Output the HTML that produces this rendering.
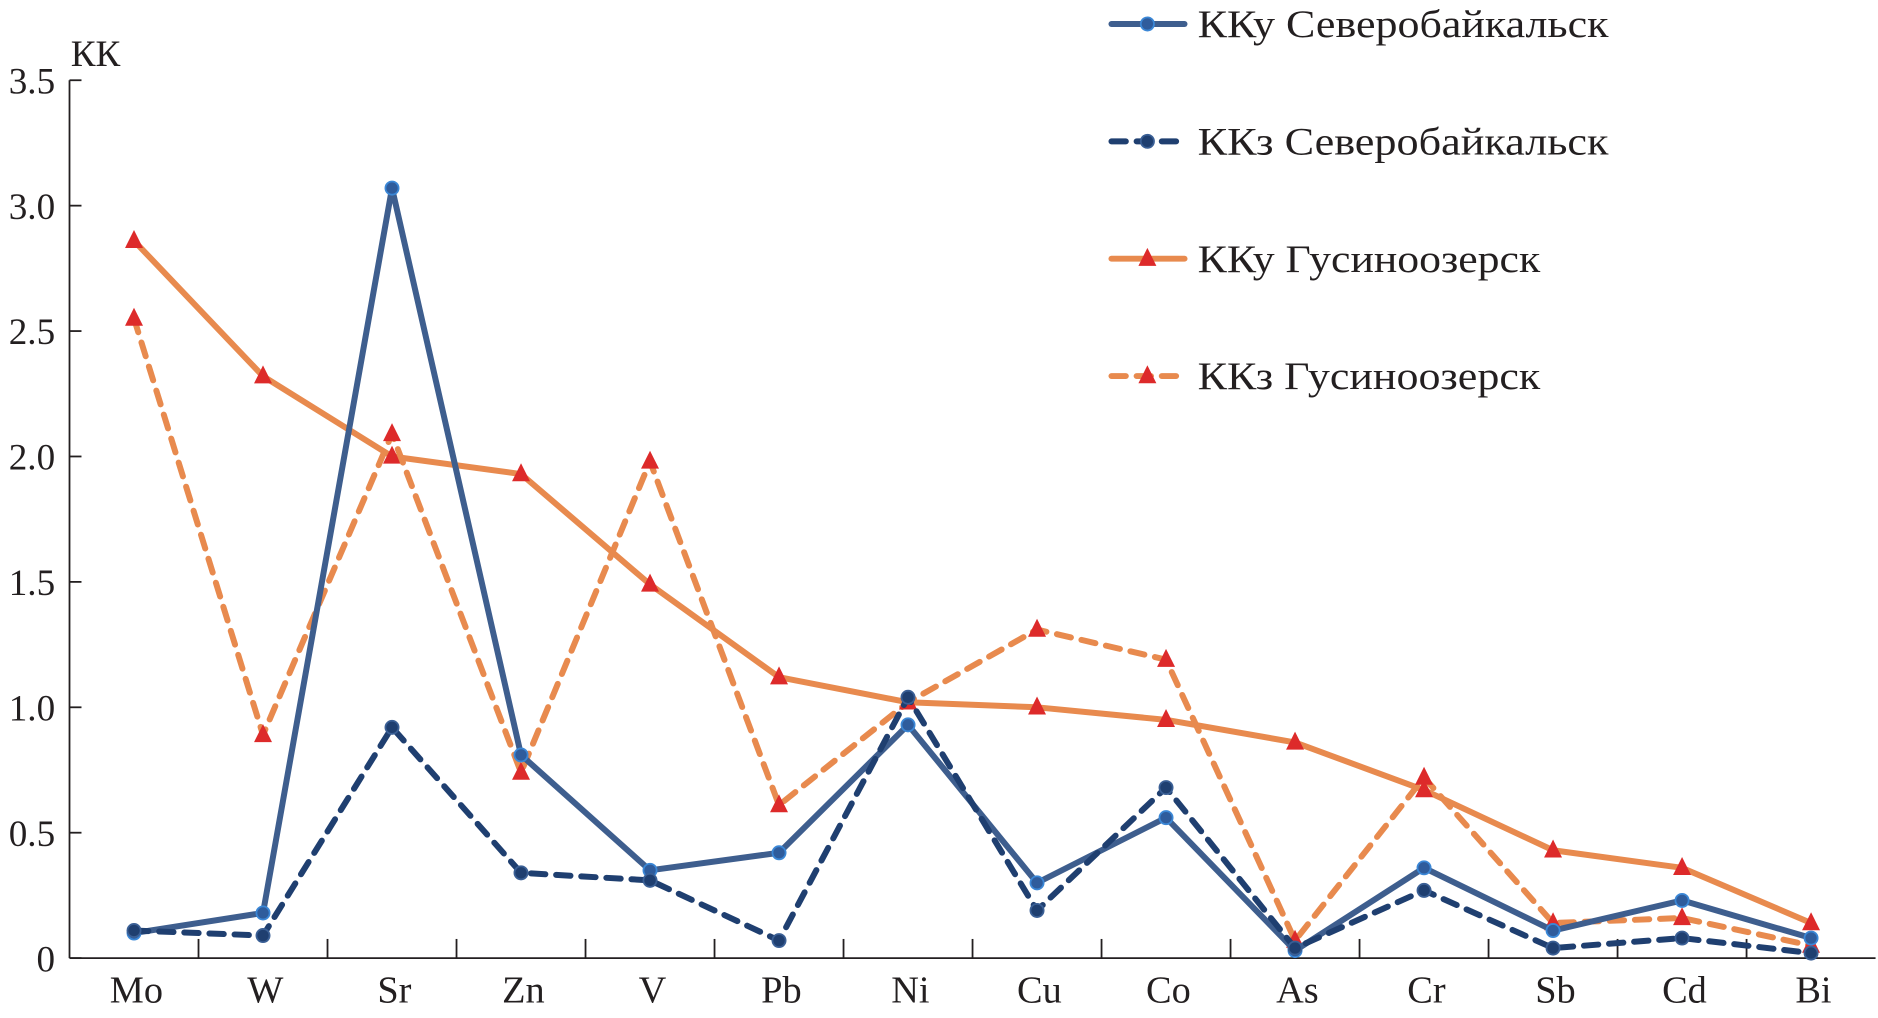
<!DOCTYPE html>
<html><head><meta charset="utf-8"><style>
html,body{margin:0;padding:0;background:#fff;}
svg{display:block;}
text{font-family:"Times New Roman","Liberation Serif","DejaVu Serif",serif;fill:#231f20;}
</style></head><body>
<svg id="chart" width="1878" height="1018" viewBox="0 0 1568 850" xmlns="http://www.w3.org/2000/svg" font-family="Times New Roman, Liberation Serif, DejaVu Serif, serif">
<g id="axes"></g>
<g id="series"></g>
<g id="legend"></g>
</svg>
<script>
const categories = ["Mo","W","Sr","Zn","V","Pb","Ni","Cu","Co","As","Cr","Sb","Cd","Bi"];
const kkySever = [0.10,0.18,3.07,0.81,0.35,0.42,0.93,0.30,0.56,0.03,0.36,0.11,0.23,0.08];
const kkzSever = [0.11,0.09,0.92,0.34,0.31,0.07,1.04,0.19,0.68,0.04,0.27,0.04,0.08,0.02];
const kkyGus = [2.86,2.32,2.00,1.93,1.49,1.12,1.02,1.00,0.95,0.86,0.67,0.43,0.36,0.14];
const kkzGus = [2.55,0.89,2.09,0.74,1.98,0.61,1.02,1.31,1.19,0.07,0.72,0.14,0.16,0.05];
const yTicks = [0,0.5,1.0,1.5,2.0,2.5,3.0,3.5];
const yTickLabels = ["0","0.5","1.0","1.5","2.0","2.5","3.0","3.5"];
const legendLabels = ["ККу Северобайкальск","ККз Северобайкальск","ККу Гусиноозерск","ККз Гусиноозерск"];

const NS="http://www.w3.org/2000/svg";
const FF="Times New Roman, Liberation Serif, DejaVu Serif, serif";
const X0=58, X1=1566, Y0=800, YTOP=67, YMAX=3.5;
const step=(X1-X0)/categories.length;
function xs(i){return X0+step*(i+0.5);}
function ys(v){return Y0-(v/YMAX)*(Y0-YTOP);}
function mk(tag,attrs,parent){const e=document.createElementNS(NS,tag);for(const k in attrs)e.setAttribute(k,attrs[k]);parent.appendChild(e);return e;}
const axes=document.getElementById('axes'), series=document.getElementById('series'), legend=document.getElementById('legend');

let e=mk('line',{x1:X0,y1:YTOP,x2:X0,y2:Y0,stroke:'#231f20','stroke-width':1.5},axes);


e=mk('line',{x1:X0,y1:Y0,x2:X1,y2:Y0,stroke:'#231f20','stroke-width':1.5},axes);


yTicks.forEach((v,i)=>{
  const t=mk('line',{x1:X0,y1:ys(v),x2:X0+10,y2:ys(v),stroke:'#231f20','stroke-width':1.5},axes);
  
  
  const l=mk('text',{x:X0-12,y:ys(v)+11,'text-anchor':'end','font-size':31,'font-family':FF},axes);
  l.textContent=yTickLabels[i];
  
  
});
for(let i=1;i<categories.length;i++){
  const t=mk('line',{x1:X0+step*i,y1:Y0,x2:X0+step*i,y2:Y0-16,stroke:'#231f20','stroke-width':1.5},axes);
  
  
}
categories.forEach((c,i)=>{
  const l=mk('text',{x:xs(i)+2,y:837,'text-anchor':'middle','font-size':32,'font-family':FF},axes);
  l.textContent=c;
  
  
});
e=mk('text',{x:59,y:55,'font-size':31,'font-family':FF},axes);
e.textContent="КК";



const defs=[
 {data:kkySever,color:'#3e5e8e',dash:null,marker:'circle',mfill:'#2f5c9c',mstroke:'#3b87d6',name:'series-kky-severobaikalsk'},
 {data:kkzSever,color:'#1f3f70',dash:'12 9',marker:'circle',mfill:'#1f3f70',mstroke:'#3a5f95',name:'series-kkz-severobaikalsk'},
 {data:kkyGus,color:'#e88a4e',dash:null,marker:'tri',mfill:'#dd2a2a',mstroke:'#dd2a2a',name:'series-kky-gusinoozersk'},
 {data:kkzGus,color:'#e88a4e',dash:'12 9',marker:'tri',mfill:'#dd2a2a',mstroke:'#dd2a2a',name:'series-kkz-gusinoozersk'}
];
function marker(d,x,y,g){
  let m;
  if(d.marker==='circle') m=mk('circle',{cx:x,cy:y,r:5.5,fill:d.mfill,stroke:d.mstroke,'stroke-width':1.5},g);
  else m=mk('polygon',{points:`${x},${y-9} ${x-7.5},${y+6} ${x+7.5},${y+6}`,fill:d.mfill},g);
  return m;
}
const drawOrder=[2,3,0,1];
drawOrder.forEach(k=>{
  const d=defs[k];
  const g=mk('g',{},series);
  
  
  const pts=d.data.map((v,i)=>xs(i)+','+ys(v)).join(' ');
  const pl=mk('polyline',{points:pts,fill:'none',stroke:d.color,'stroke-width':5,'stroke-linejoin':'round','stroke-linecap':'round'},g);
  if(d.dash) pl.setAttribute('stroke-dasharray',d.dash);
  
  
  d.data.forEach((v,i)=>{
    const m=marker(d,xs(i),ys(v),g);
    
    
  });
});
const legendY=[20,118,216,314];
const legendW=[343,343,286,286];
defs.forEach((d,k)=>{
  const g=mk('g',{},legend);
  
  
  const y=legendY[k];
  const ln=mk('line',{x1:928,y1:y,x2:989,y2:y,stroke:d.color,'stroke-width':5,'stroke-linecap':'round'},g);
  if(d.dash) ln.setAttribute('stroke-dasharray','12 9');
  marker(d,958,y,g);
  const t=mk('text',{x:1000,y:y+11,'font-size':33,'font-family':FF,textLength:legendW[k],lengthAdjust:'spacingAndGlyphs'},g);
  t.textContent=legendLabels[k];
  
  
});
</script>
</body></html>
